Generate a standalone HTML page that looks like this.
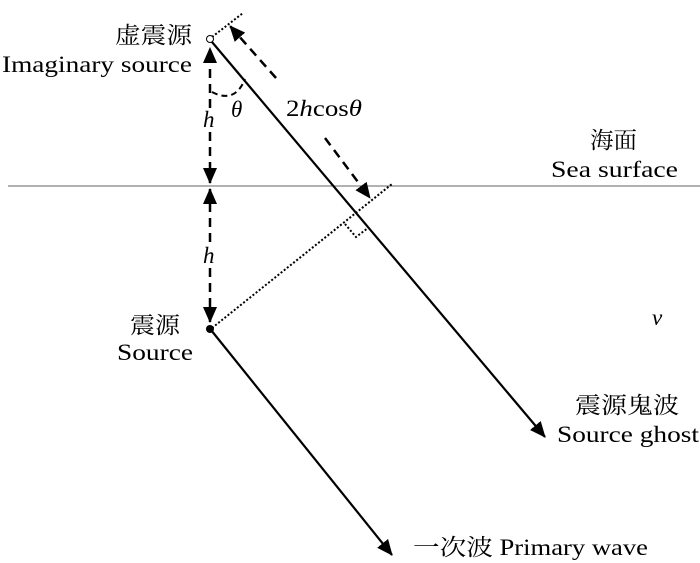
<!DOCTYPE html>
<html><head><meta charset="utf-8"><style>
body{margin:0;background:#fff;width:700px;height:563px;overflow:hidden}
svg{display:block}
text{font-family:"Liberation Serif","Noto Serif CJK SC",serif;font-size:23px;fill:#000}
</style></head><body>
<svg width="700" height="563" viewBox="0 0 700 563">
<defs>
<marker id="b" markerWidth="16" markerHeight="14" refX="15" refY="7" orient="auto" markerUnits="userSpaceOnUse"><path d="M0,0 L16,7 L0,14 Z" fill="#000"/></marker>
</defs>
<line x1="8" y1="186" x2="700" y2="186" stroke="#666" stroke-width="1"/>
<line x1="212" y1="42" x2="545" y2="437" stroke="#000" stroke-width="2.2" marker-end="url(#b)"/>
<line x1="211" y1="330" x2="392" y2="555" stroke="#000" stroke-width="2.2" marker-end="url(#b)"/>
<line x1="212" y1="37" x2="243" y2="13" stroke="#000" stroke-width="2" stroke-dasharray="2,2"/>
<line x1="212" y1="328" x2="392" y2="184" stroke="#000" stroke-width="2" stroke-dasharray="2,2"/>
<polyline points="345,224 356,237 368,228" fill="none" stroke="#000" stroke-width="2" stroke-dasharray="2,2"/>
<line x1="276" y1="78" x2="230" y2="26" stroke="#000" stroke-width="2.5" stroke-dasharray="9,6" marker-end="url(#b)"/>
<line x1="325" y1="138" x2="370" y2="198" stroke="#000" stroke-width="2.5" stroke-dasharray="9,6" marker-end="url(#b)"/>
<line x1="210" y1="108" x2="210" y2="48" stroke="#000" stroke-width="2.5" stroke-dasharray="9,6" marker-end="url(#b)"/>
<line x1="210" y1="132" x2="210" y2="183" stroke="#000" stroke-width="2.5" stroke-dasharray="9,6" marker-end="url(#b)"/>
<line x1="210" y1="242" x2="210" y2="189" stroke="#000" stroke-width="2.5" stroke-dasharray="9,6" marker-end="url(#b)"/>
<line x1="210" y1="268" x2="210" y2="322" stroke="#000" stroke-width="2.5" stroke-dasharray="9,6" marker-end="url(#b)"/>
<path d="M212,92 Q235,104 245,79" fill="none" stroke="#000" stroke-width="2" stroke-dasharray="6,4"/>
<circle cx="210" cy="39" r="3.5" fill="#fff" stroke="#000" stroke-width="1"/>
<circle cx="210" cy="329" r="4" fill="#000"/>
<text x="115" y="43" textLength="77" lengthAdjust="spacingAndGlyphs">虚震源</text>
<text x="2" y="72" textLength="190" lengthAdjust="spacingAndGlyphs">Imaginary source</text>
<text x="203" y="127" font-style="italic">h</text>
<text x="203" y="263" font-style="italic">h</text>
<text x="231" y="117" font-style="italic">θ</text>
<text x="286" y="116" textLength="76" lengthAdjust="spacingAndGlyphs"><tspan>2</tspan><tspan font-style="italic">h</tspan><tspan>cos</tspan><tspan font-style="italic">θ</tspan></text>
<text x="590" y="148" textLength="47" lengthAdjust="spacingAndGlyphs">海面</text>
<text x="551" y="177" textLength="127" lengthAdjust="spacingAndGlyphs">Sea surface</text>
<text x="130" y="333" textLength="50" lengthAdjust="spacingAndGlyphs">震源</text>
<text x="117" y="360" textLength="76" lengthAdjust="spacingAndGlyphs">Source</text>
<text x="652" y="325" font-style="italic">v</text>
<text x="575" y="413" textLength="104" lengthAdjust="spacingAndGlyphs">震源鬼波</text>
<text x="557" y="442" textLength="142" lengthAdjust="spacingAndGlyphs">Source ghost</text>
<text x="413" y="555" textLength="235" lengthAdjust="spacingAndGlyphs">一次波 Primary wave</text>
</svg>
</body></html>
